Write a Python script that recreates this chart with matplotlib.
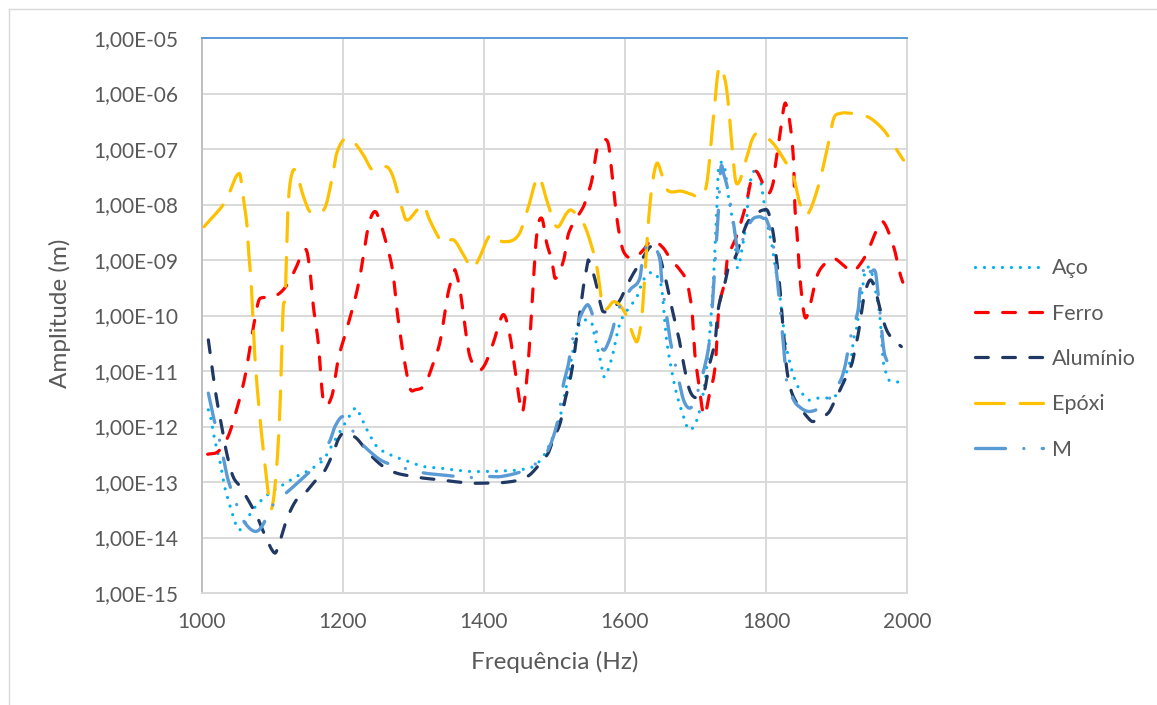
import numpy as np
import matplotlib
matplotlib.use("Agg")
import matplotlib.pyplot as plt
from matplotlib.lines import Line2D
from matplotlib.ticker import FixedLocator, FuncFormatter, NullLocator

plt.rcParams['font.family'] = ['Lato', 'DejaVu Sans']

# Frequency (Hz) and log10 of amplitude (m) for each material
aco_f = [1009, 1012, 1018, 1025, 1032, 1040, 1049, 1054, 1066, 1078, 1096, 1115, 1134, 1153,
         1172, 1186, 1200, 1215, 1219, 1234, 1248, 1267, 1286, 1314, 1338, 1356, 1380, 1404,
         1427, 1451, 1470, 1484, 1496, 1508, 1515, 1522, 1529, 1536, 1546, 1553, 1557, 1565,
         1570, 1576, 1583, 1590, 1597, 1607, 1617, 1626, 1638, 1646, 1652, 1655, 1659, 1666,
         1673, 1683, 1691, 1702, 1711, 1716, 1721, 1725, 1728, 1730, 1732, 1735, 1739, 1742,
         1746, 1751, 1756, 1758, 1761, 1765, 1769, 1773, 1775, 1780, 1784, 1791, 1796, 1801,
         1808, 1813, 1818, 1822, 1827, 1834, 1841, 1848, 1860, 1872, 1884, 1896, 1903, 1907,
         1912, 1917, 1922, 1924, 1929, 1933, 1936, 1940, 1948, 1955, 1959, 1962, 1964, 1966,
         1969, 1974, 1983, 1993]
aco_log = [-11.70, -11.82, -12.24, -12.60, -13.08, -13.44, -13.80, -13.86, -13.62, -13.41,
           -13.20, -13.05, -12.90, -12.78, -12.60, -12.30, -12.00, -11.70, -11.67, -12.06,
           -12.36, -12.51, -12.60, -12.72, -12.75, -12.78, -12.81, -12.81, -12.80, -12.78,
           -12.72, -12.54, -12.24, -11.82, -11.40, -10.92, -10.44, -10.14, -10.08, -10.14,
           -10.38, -10.80, -11.10, -10.98, -10.68, -10.26, -10.02, -9.84, -9.66, -9.36,
           -9.22, -9.30, -9.50, -9.90, -10.44, -10.98, -11.40, -11.82, -12.06, -11.88,
           -11.40, -10.92, -10.20, -9.45, -8.70, -8.15, -7.44, -7.26, -7.26, -7.38,
           -7.80, -8.16, -8.58, -9.06, -9.12, -8.88, -8.58, -8.22, -7.74, -7.50,
           -7.38, -7.50, -7.86, -8.30, -8.70, -9.12, -9.48, -9.90, -10.44, -10.86,
           -11.16, -11.34, -11.52, -11.49, -11.49, -11.46, -11.40, -11.28, -11.10, -10.92,
           -10.68, -10.44, -10.20, -9.78, -9.60, -9.24, -9.15, -9.54, -9.78, -10.08,
           -10.44, -10.80, -10.98, -11.16, -11.19, -11.21]

ferro_f = [1008, 1023, 1037, 1049, 1061, 1073, 1080, 1085, 1096, 1110, 1122, 1134, 1141, 1148,
           1153, 1158, 1165, 1172, 1184, 1193, 1205, 1215, 1224, 1234, 1241, 1248, 1264, 1271,
           1276, 1281, 1286, 1295, 1302, 1316, 1328, 1338, 1349, 1357, 1359, 1366, 1373, 1380,
           1392, 1401, 1413, 1425, 1430, 1437, 1444, 1451, 1455, 1461, 1465, 1469, 1475, 1482,
           1489, 1496, 1501, 1513, 1520, 1541, 1546, 1553, 1560, 1567, 1576, 1581, 1586, 1591,
           1598, 1612, 1626, 1638, 1654, 1664, 1678, 1688, 1692, 1695, 1699, 1704, 1712, 1720,
           1728, 1733, 1742, 1745, 1758, 1772, 1780, 1786, 1793, 1803, 1810, 1813, 1820, 1825,
           1828, 1834, 1839, 1841, 1844, 1848, 1855, 1862, 1872, 1884, 1896, 1912, 1922, 1929,
           1943, 1957, 1966, 1981, 1990, 1994]
ferro_log = [-12.50, -12.45, -12.18, -11.70, -11.10, -10.20, -9.75, -9.68, -9.68, -9.60,
             -9.42, -9.12, -8.91, -8.82, -9.18, -9.84, -10.50, -11.52, -11.46, -10.80,
             -10.26, -9.81, -9.30, -8.52, -8.19, -8.16, -8.82, -9.24, -9.84, -10.32,
             -10.74, -11.31, -11.34, -11.25, -10.86, -10.45, -9.60, -9.24, -9.18, -9.54,
             -10.20, -10.74, -10.98, -10.89, -10.50, -10.02, -10.02, -10.38, -10.98, -11.58,
             -11.73, -11.10, -10.44, -9.60, -8.52, -8.25, -8.70, -9.00, -9.33, -9.00,
             -8.52, -8.04, -7.86, -7.56, -7.02, -6.87, -6.89, -7.38, -7.98, -8.46,
             -8.85, -8.97, -8.82, -8.64, -8.78, -8.97, -9.18, -9.39, -9.66, -9.90,
             -10.68, -11.16, -11.80, -11.40, -10.90, -9.90, -9.36, -9.00, -8.58, -7.98,
             -7.50, -7.40, -7.55, -7.80, -7.62, -7.32, -6.72, -6.27, -6.18, -6.54,
             -7.20, -8.04, -8.52, -9.30, -10.02, -9.84, -9.30, -9.06, -8.97, -9.12,
             -9.21, -9.15, -8.88, -8.46, -8.31, -8.76, -9.24, -9.40]

aluminio_f = [1009, 1014, 1021, 1028, 1035, 1044, 1054, 1068, 1078, 1092, 1103, 1108, 1120,
              1134, 1146, 1160, 1172, 1186, 1193, 1200, 1210, 1219, 1229, 1241, 1257, 1276,
              1300, 1314, 1338, 1356, 1380, 1404, 1427, 1451, 1465, 1480, 1491, 1498, 1508,
              1515, 1522, 1527, 1532, 1536, 1541, 1546, 1548, 1555, 1560, 1565, 1569, 1583,
              1593, 1602, 1612, 1621, 1630, 1636, 1643, 1650, 1659, 1666, 1676, 1683, 1690,
              1697, 1706, 1713, 1718, 1728, 1732, 1742, 1747, 1754, 1758, 1768, 1775, 1787,
              1796, 1803, 1810, 1815, 1820, 1822, 1825, 1829, 1834, 1841, 1858, 1867, 1888,
              1896, 1905, 1914, 1922, 1926, 1931, 1936, 1940, 1948, 1955, 1962, 1971, 1981,
              1992]
aluminio_log = [-10.44, -10.92, -11.52, -12.00, -12.48, -12.90, -13.08, -13.38, -13.62, -14.04,
                -14.28, -14.17, -13.68, -13.32, -13.20, -12.99, -12.84, -12.48, -12.24, -12.12,
                -12.15, -12.21, -12.36, -12.54, -12.72, -12.84, -12.90, -12.93, -12.96, -12.99,
                -13.02, -13.02, -13.01, -12.96, -12.87, -12.66, -12.48, -12.24, -11.94, -11.52,
                -11.16, -10.80, -10.32, -9.96, -9.48, -9.12, -9.00, -9.24, -9.48, -9.78,
                -9.93, -9.87, -9.72, -9.48, -9.24, -9.06, -8.86, -8.76, -8.76, -8.97,
                -9.42, -9.84, -10.38, -10.86, -11.28, -11.46, -11.46, -11.34, -10.98, -10.44,
                -9.90, -9.40, -9.12, -9.00, -8.90, -8.50, -8.30, -8.16, -8.10, -8.13,
                -8.50, -9.00, -9.54, -9.90, -10.32, -10.92, -11.28, -11.52, -11.82, -11.91,
                -11.76, -11.58, -11.34, -11.10, -10.86, -10.62, -10.32, -9.90, -9.60, -9.36,
                -9.54, -9.90, -10.26, -10.44, -10.56]

epoxi_f = [1003, 1033, 1053, 1059, 1064, 1066, 1070, 1075, 1082, 1089, 1094, 1099, 1106, 1111,
           1115, 1118, 1120, 1122, 1126, 1132, 1144, 1153, 1165, 1175, 1184, 1191, 1203, 1215,
           1229, 1242, 1262, 1271, 1283, 1290, 1305, 1314, 1323, 1335, 1342, 1357, 1371, 1383,
           1392, 1409, 1427, 1449, 1463, 1477, 1489, 1503, 1517, 1524, 1541, 1550, 1560, 1569,
           1585, 1600, 1613, 1618, 1624, 1628, 1632, 1638, 1645, 1652, 1660, 1680, 1695, 1706,
           1716, 1726, 1733, 1742, 1747, 1751, 1758, 1773, 1780, 1787, 1808, 1829, 1839, 1848,
           1858, 1874, 1888, 1896, 1905, 1914, 1938, 1952, 1969, 1981, 1995]
epoxi_log = [-8.40, -7.95, -7.44, -7.92, -8.40, -8.82, -9.48, -10.74, -11.82, -12.66,
             -13.20, -13.47, -12.72, -11.52, -9.90, -9.66, -8.82, -8.04, -7.53, -7.38,
             -7.86, -8.13, -8.16, -8.04, -7.56, -7.08, -6.81, -6.87, -7.11, -7.38,
             -7.32, -7.50, -8.04, -8.28, -8.10, -8.01, -8.28, -8.58, -8.70, -8.64,
             -8.91, -9.15, -9.00, -8.55, -8.67, -8.55, -8.04, -7.50, -7.92, -8.40,
             -8.16, -8.10, -8.34, -8.64, -9.12, -9.85, -9.75, -9.95, -10.40, -10.45,
             -10.00, -9.30, -8.50, -7.70, -7.26, -7.45, -7.74, -7.76, -7.82, -7.86,
             -7.62, -6.36, -5.55, -5.76, -6.24, -6.84, -7.62, -7.14, -6.84, -6.72,
             -6.87, -7.26, -7.50, -7.98, -8.19, -7.68, -6.93, -6.45, -6.36, -6.35,
             -6.39, -6.48, -6.69, -6.93, -7.20]

m_f = [1009, 1016, 1026, 1030, 1037, 1052, 1061, 1075, 1085, 1099, 1111, 1130, 1146, 1163,
       1177, 1182, 1189, 1200, 1210, 1222, 1238, 1257, 1295, 1316, 1338, 1380, 1401, 1425,
       1460, 1477, 1491, 1505, 1512, 1520, 1524, 1531, 1546, 1553, 1560, 1569, 1576, 1583,
       1588, 1607, 1621, 1626, 1638, 1645, 1650, 1652, 1657, 1661, 1664, 1673, 1683, 1692,
       1699, 1713, 1721, 1728, 1732, 1736, 1740, 1746, 1754, 1758, 1762, 1768, 1780, 1791,
       1796, 1801, 1810, 1818, 1825, 1827, 1829, 1837, 1844, 1862, 1884, 1905, 1912, 1919,
       1926, 1931, 1933, 1941, 1948, 1955, 1959, 1969, 1993]
m_log = [-11.40, -11.82, -12.30, -12.54, -12.96, -13.50, -13.74, -13.89, -13.80, -13.44,
         -13.29, -13.08, -12.89, -12.69, -12.36, -12.24, -11.99, -11.82, -12.00, -12.24,
         -12.45, -12.63, -12.78, -12.84, -12.87, -12.92, -12.90, -12.90, -12.78, -12.63,
         -12.42, -11.88, -11.28, -10.86, -10.53, -10.20, -9.81, -9.95, -10.32, -10.62,
         -10.50, -10.23, -9.96, -9.54, -9.33, -8.88, -8.70, -8.82, -9.03, -9.36,
         -9.84, -10.17, -10.44, -10.98, -11.52, -11.67, -11.52, -10.92, -10.32, -9.00,
         -8.22, -7.34, -7.45, -7.74, -8.34, -8.70, -8.90, -8.60, -8.28, -8.22,
         -8.25, -8.28, -8.70, -9.60, -10.56, -10.86, -11.16, -11.46, -11.61, -11.73,
         -11.58, -11.19, -10.92, -10.44, -10.14, -9.87, -9.57, -9.06, -9.21, -9.21,
         -9.60, -10.74, -10.86]

y_ticks = [1e-15, 1e-14, 1e-13, 1e-12, 1e-11, 1e-10, 1e-9, 1e-8, 1e-7, 1e-6, 1e-5]
x_ticks = [1000, 1200, 1400, 1600, 1800, 2000]


def smooth_curve(x, y, per=24):
    """Piecewise cubic Hermite through the points (smoothed line)."""
    x = np.asarray(x, float)
    y = np.asarray(y, float)
    m = np.empty_like(y)
    m[1:-1] = (y[2:] - y[:-2]) / (x[2:] - x[:-2])
    m[0] = (y[1] - y[0]) / (x[1] - x[0])
    m[-1] = (y[-1] - y[-2]) / (x[-1] - x[-2])
    xs, ys = [], []
    t = np.linspace(0, 1, per, endpoint=False)
    h00 = 2 * t**3 - 3 * t**2 + 1
    h10 = t**3 - 2 * t**2 + t
    h01 = -2 * t**3 + 3 * t**2
    h11 = t**3 - t**2
    for i in range(len(x) - 1):
        h = x[i + 1] - x[i]
        xs.append(x[i] + t * h)
        ys.append(h00 * y[i] + h10 * h * m[i] + h01 * y[i + 1] + h11 * h * m[i + 1])
    xs.append([x[-1]])
    ys.append([y[-1]])
    return np.concatenate(xs), np.concatenate(ys)


W, H = 1157, 705
fig = plt.figure(figsize=(W / 100, H / 100), dpi=100)
fig.patch.set_facecolor('white')

# outer chart border (left and top edges)
border = '#D9D9D9'
fig.add_artist(Line2D([8.5 / W, 8.5 / W], [0, 1 - 8.5 / H], transform=fig.transFigure,
                      color=border, lw=1.0))
fig.add_artist(Line2D([8.5 / W, 1], [1 - 8.5 / H, 1 - 8.5 / H], transform=fig.transFigure,
                      color=border, lw=1.0))

left, right, top, bottom = 202, 907, 38, 593
ax = fig.add_axes([left / W, 1 - bottom / H, (right - left) / W, (bottom - top) / H])

series = [
    ("Aço", aco_f, aco_log, '#00B0F0', 2.3, (0, (0.01, 2.8))),
    ("Ferro", ferro_f, ferro_log, '#FF0000', 2.3, (0, (4.0, 4.5))),
    ("Alumínio", aluminio_f, aluminio_log, '#1F3864', 2.3, (0, (4.0, 4.5))),
    ("Epóxi", epoxi_f, epoxi_log, '#FFC000', 2.3, (0, (9.0, 5.0))),
    ("M", m_f, m_log, '#5B9BD5', 2.4, (0, (9.0, 5.5, 0.01, 5.5))),
]

handles = []
for name, f, lg, color, lw, ls in series:
    xs, ys = smooth_curve(f, lg)
    line, = ax.plot(xs, 10.0 ** ys, color=color, lw=lw, linestyle=ls,
                    dash_capstyle='round', solid_capstyle='round', label=name, zorder=3)
    handles.append(line)

ax.set_yscale('log')
ax.set_xlim(1000, 2000)
ax.set_ylim(1e-15, 1e-5)

ax.yaxis.set_major_locator(FixedLocator(y_ticks))
ax.yaxis.set_minor_locator(NullLocator())
ax.xaxis.set_major_locator(FixedLocator(x_ticks))
ax.xaxis.set_minor_locator(NullLocator())


def fmt_sci(v, pos):
    exp = int(round(np.log10(v)))
    sign = '-' if exp < 0 else '+'
    return f"1,00E{sign}{abs(exp):02d}"


ax.yaxis.set_major_formatter(FuncFormatter(fmt_sci))
ax.xaxis.set_major_formatter(FuncFormatter(lambda v, p: f"{int(v)}"))

grid_c = '#D9D9D9'
ax.grid(True, which='major', color=grid_c, lw=1.4, zorder=0)
ax.set_axisbelow(True)
for s in ['right', 'bottom']:
    ax.spines[s].set_color(grid_c)
    ax.spines[s].set_linewidth(1.4)
ax.spines['left'].set_color('#BFBFBF')
ax.spines['left'].set_linewidth(1.4)
ax.spines['top'].set_color('#5B9BD5')
ax.spines['top'].set_linewidth(1.4)

tick_c = '#595959'
ax.tick_params(axis='both', length=0, labelsize=15, labelcolor=tick_c)
ax.tick_params(axis='y', pad=17)
ax.tick_params(axis='x', pad=14)

fig.text(60 / W, 1 - 313 / H, "Amplitude (m)", rotation=90, ha='center', va='center',
         fontsize=17.5, color=tick_c)
fig.text(555 / W, 1 - 662 / H, "Frequência (Hz)", ha='center', va='center',
         fontsize=17.5, color=tick_c)

leg = fig.legend(handles=handles, loc='center left', bbox_to_anchor=(975 / W, 1 - 359 / H),
                 frameon=False, fontsize=15.5, handlelength=3.16, handletextpad=0.42,
                 labelspacing=1.18, borderpad=0, borderaxespad=0)
for t in leg.get_texts():
    t.set_color(tick_c)

fig.savefig("out.png", dpi=100, facecolor='white')
